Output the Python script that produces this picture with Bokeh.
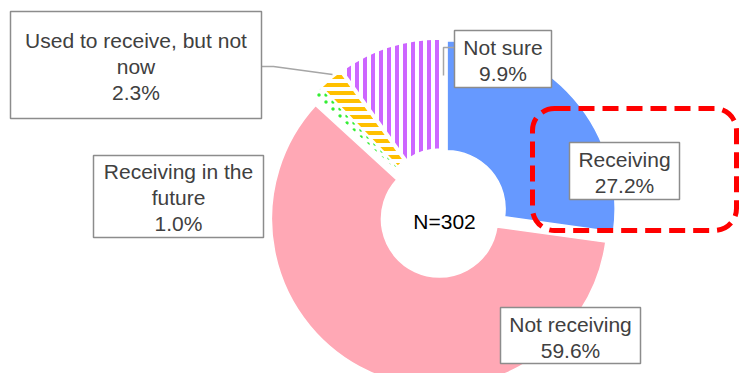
import math
from bokeh.plotting import figure
from bokeh.models import ColumnDataSource, Range1d, BoxAnnotation, CanvasTexture
from bokeh.core.properties import value
from bokeh.embed import file_html
from bokeh.resources import INLINE

# ---- data ----
categories = ["Receiving", "Not receiving", "Receiving in the future",
              "Used to receive, but not now", "Not sure"]
percents = [27.2, 59.6, 1.0, 2.3, 9.9]
label_text = ["Receiving", "Not receiving", "Receiving in the\nfuture",
              "Used to receive, but not\nnow", "Not sure"]
sample_text = "N=302"

# ---- styles ----
fill_colors = ["#6699FF", "#FFC9DC", "#FFFFFF", "#FFFFFF", "#FFFFFF"]
hatch_patterns = ["blank", "checker", "dot", "horizontal_line", "vertical_line"]
hatch_colors = ["#6699FF", "#FF7C80", "#33EE33", "#FFC000", "#CC66FF"]
hatch_scales = [6, 6, 7, 8, 8]
hatch_weights = [1, 1, 1, 4, 4]

W, H = 740, 373
def py(y):  # page y -> data y
    return H - y

CX, CY = 441.7, py(212.6)
R_OUT, R_IN = 168, 58
EXPLODE = 6.5

p = figure(width=W, height=H, x_range=Range1d(0, W), y_range=Range1d(0, H),
           output_backend="svg", toolbar_location=None, min_border=0)
p.axis.visible = False
p.grid.visible = False
p.outline_line_color = None
p.background_fill_color = "white"

total = sum(percents)
xs, ys, starts, ends = [], [], [], []
acc = 0.0
for v in percents:
    f0 = acc / total
    acc += v
    f1 = acc / total
    mid = math.pi / 2 - 2 * math.pi * (f0 + f1) / 2
    xs.append(CX + EXPLODE * math.cos(mid))
    ys.append(CY + EXPLODE * math.sin(mid))
    starts.append(math.pi / 2 - 2 * math.pi * f1)
    ends.append(math.pi / 2 - 2 * math.pi * f0)

src = ColumnDataSource(dict(x=xs, y=ys, start=starts, end=ends, fill=fill_colors,
                            hp=hatch_patterns, hc=hatch_colors, hs=hatch_scales,
                            hw=hatch_weights, cat=categories))

checker = CanvasTexture(code="""
var h = scale/2;
ctx.fillStyle = "#FF7C80";
ctx.fillRect(0, 0, h, h);
ctx.fillRect(h, h, h, h);
""")

p.annular_wedge(x="x", y="y", inner_radius=R_IN, outer_radius=R_OUT,
                start_angle="start", end_angle="end", direction="anticlock",
                fill_color="fill", line_color="white", line_width=1.5,
                hatch_pattern="hp", hatch_color="hc", hatch_scale="hs",
                hatch_weight="hw", hatch_extra={"checker": checker}, source=src)

# ---- leader lines ----
lead_color = "#A6A6A6"
p.line([261, 273, 332], [py(66), py(66), py(74)], line_color=lead_color, line_width=1.5)
p.line([454, 443, 443], [py(47), py(47), py(75)], line_color=lead_color, line_width=1.5)

# ---- label boxes (page coords: left, top, right, bottom) ----
boxes = [(569, 142, 679, 199), (500, 307, 640, 363), (93, 155, 263, 237),
         (10, 11, 261, 118), (454, 30, 551, 87)]
text_centers = [(624, 172), (570, 337), (178, 197), (135.5, 66), (502.5, 60)]
p.quad(left=[b[0] for b in boxes], right=[b[2] for b in boxes],
       top=[py(b[1]) for b in boxes], bottom=[py(b[3]) for b in boxes],
       fill_color="white", line_color="#8C8C8C", line_width=1.5)
labels = [f"{t}\n{v:.1f}%" for t, v in zip(label_text, percents)]
p.text(x=[c[0] for c in text_centers], y=[py(c[1]) for c in text_centers], text=labels,
       text_align="center", text_baseline="middle", text_font=value("Liberation Sans"),
       text_font_size="21px", text_color="#404040", text_line_height=1.15)

p.text(x=[444], y=[py(221)], text=[sample_text], text_align="center",
       text_baseline="middle", text_font=value("Liberation Sans"),
       text_font_size="21px", text_color="#000000")

# ---- red dashed highlight ----
p.add_layout(BoxAnnotation(left=532, right=736, top=py(108), bottom=py(230),
                           border_radius=22, line_color="#FF0000", line_alpha=1.0,
                           line_width=5, line_dash="16 8", fill_alpha=0))

open("out.html", "w").write(file_html(p, INLINE))
